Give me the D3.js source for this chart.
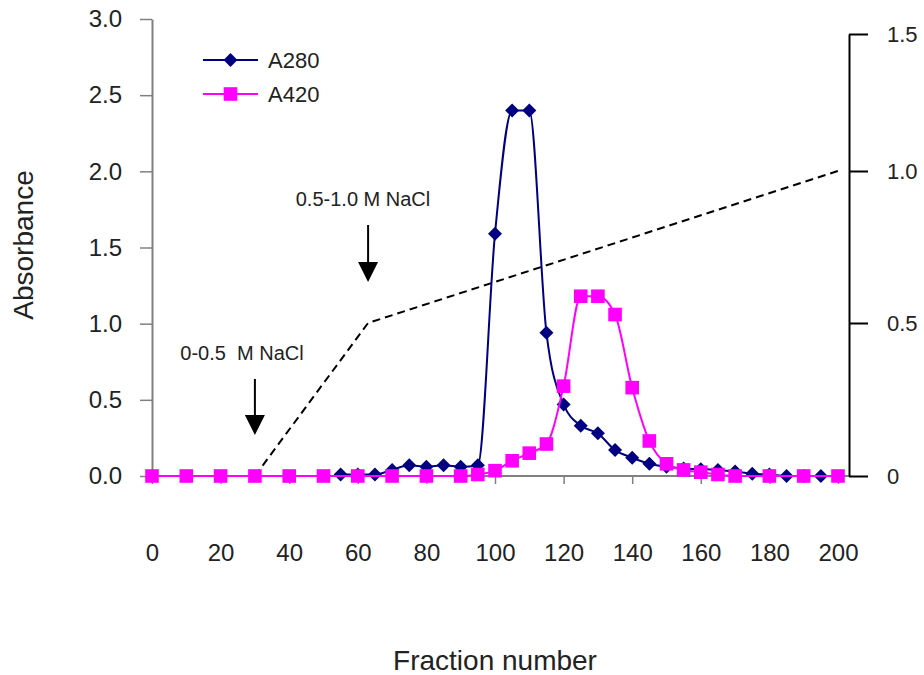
<!DOCTYPE html>
<html>
<head>
<meta charset="utf-8">
<script src="https://cdn.jsdelivr.net/npm/d3@7"></script>
<style>
body { margin: 0; background: #fff; }
svg { display: block; font-family: "Liberation Sans", Arial, sans-serif; }
</style>
</head>
<body>
<svg id="chart" width="924" height="675"></svg>
<script>
// fractions and absorbance readings
const a280Fractions = [55, 60, 65, 70, 75, 80, 85, 90, 95, 100, 105, 110, 115, 120, 125,
    130, 135, 140, 145, 150, 155, 160, 165, 170, 175, 180, 185, 190, 195];
const a280Values = [0.01, 0.01, 0.01, 0.04, 0.07, 0.06, 0.07, 0.06, 0.07, 1.59, 2.40, 2.40, 0.94, 0.47, 0.33,
    0.28, 0.17, 0.12, 0.08, 0.06, 0.05, 0.045, 0.04, 0.03, 0.015, 0.01, 0.0, 0.0, 0.0];
const a420Fractions = [0, 10, 20, 30, 40, 50, 60, 70, 80, 90, 95, 100, 105, 110, 115, 120,
    125, 130, 135, 140, 145, 150, 155, 160, 165, 170, 180, 190, 200];
const a420Values = [0, 0, 0, 0, 0, 0, 0, 0, 0, 0, 0.01, 0.035, 0.10, 0.15, 0.21, 0.59,
    1.18, 1.18, 1.06, 0.58, 0.23, 0.08, 0.04, 0.025, 0.01, 0, 0, 0, 0];
// NaCl gradient (right axis, M)
const gradientFractions = [30, 63, 200];
const gradientNaCl = [0, 0.5, 1.0];
const xTicks = [0, 20, 40, 60, 80, 100, 120, 140, 160, 180, 200];
const leftTicks = [0, 0.5, 1.0, 1.5, 2.0, 2.5, 3.0];
const rightTicks = [0, 0.5, 1.0, 1.5];
const notes = [
    { text: '0-0.5  M NaCl', fraction: 30, textX: 242, textY: 353, arrowTop: 379, arrowTip: 435 },
    { text: '0.5-1.0 M NaCl', fraction: 63, textX: 363, textY: 199, arrowTop: 225, arrowTip: 282 },
];

function translate(x, y) {
    return `translate(${x}, ${y})`;
}

const svg = d3.select('#chart');
const textColor = '#222';
const axisGray = '#808080';
const navy = '#000080';
const magenta = '#ff00ff';

const x = d3.scaleLinear().domain([0, 200]).range([152, 838]);
const yLeft = d3.scaleLinear().domain([0, 3]).range([476, 19]);
// the right axis in the original is hand-drawn, its top tick sits lower
const yRight = d3.scaleLinear().domain(rightTicks).range([476, 323, 171, 34]);
const rightX = 849;

svg.append('rect').attr('width', 924).attr('height', 675).style('fill', '#fff');

// left axis
const leftAxis = svg.append('g').attr('transform', translate(x(0), 0))
    .call(d3.axisLeft(yLeft).tickValues(leftTicks).tickFormat(d3.format('.1f'))
        .tickSize(12).tickSizeOuter(0).tickPadding(18));
leftAxis.select('.domain').style('stroke', axisGray).style('stroke-width', 2);
leftAxis.selectAll('.tick line').style('stroke', axisGray).style('stroke-width', 1.5);
leftAxis.selectAll('.tick text').style('font-size', '24px').style('fill', textColor)
    .style('font-family', '"Liberation Sans", Arial, sans-serif');

// bottom axis
const bottomAxis = svg.append('g').attr('transform', translate(0, yLeft(0)))
    .call(d3.axisBottom(x).tickValues(xTicks).tickFormat(d3.format('d')).tickSize(8).tickSizeOuter(0));
bottomAxis.select('.domain').remove();
bottomAxis.append('line')
    .attr('x1', x(0)).attr('x2', rightX).attr('y1', 0).attr('y2', 0)
    .style('stroke', axisGray).style('stroke-width', 2);
bottomAxis.selectAll('.tick line').style('stroke', axisGray).style('stroke-width', 1.5);
bottomAxis.selectAll('.tick text').attr('y', 77).attr('dy', '0.35em')
    .style('font-size', '24px').style('fill', textColor)
    .style('font-family', '"Liberation Sans", Arial, sans-serif');

// right axis
const rightAxis = svg.append('g').attr('transform', translate(rightX, 0))
    .call(d3.axisRight(yRight).tickValues(rightTicks).tickFormat(d => d === 0 ? '0' : d3.format('.1f')(d))
        .tickSize(19).tickSizeOuter(0).tickPadding(19));
rightAxis.select('.domain').style('stroke', '#000').style('stroke-width', 2);
rightAxis.selectAll('.tick line').style('stroke', '#000').style('stroke-width', 2);
rightAxis.selectAll('.tick text').style('font-size', '22px').style('fill', textColor)
    .style('font-family', '"Liberation Sans", Arial, sans-serif');

// gradient dashed line
const gradient = gradientFractions.map((f, i) => [f, gradientNaCl[i]]);
svg.append('path').datum(gradient)
    .attr('d', d3.line().x(d => x(d[0])).y(d => yRight(d[1])))
    .style('fill', 'none').style('stroke', '#000').style('stroke-width', 2)
    .style('stroke-dasharray', '8,5');

// annotations with arrows
notes.forEach(n => {
    const ax = x(n.fraction);
    svg.append('text').attr('x', n.textX).attr('y', n.textY).attr('dy', '0.35em')
        .style('text-anchor', 'middle').style('font-size', '20px').style('fill', textColor)
        .style('white-space', 'pre').text(n.text);
    svg.append('line').attr('x1', ax).attr('x2', ax).attr('y1', n.arrowTop).attr('y2', n.arrowTip - 16)
        .style('stroke', '#000').style('stroke-width', 2);
    svg.append('path')
        .attr('d', `M${ax - 10},${n.arrowTip - 20}L${ax + 10},${n.arrowTip - 20}L${ax},${n.arrowTip}Z`)
        .style('fill', '#000');
});

const smooth = d3.curveMonotoneX;

function drawSeries(fractions, values, color, marker) {
    const pts = fractions.map((f, i) => [f, values[i]]);
    const g = svg.append('g');
    g.append('path').datum(pts)
        .attr('d', d3.line().x(d => x(d[0])).y(d => yLeft(d[1])).curve(smooth))
        .style('fill', 'none').style('stroke', color).style('stroke-width', 2);
    g.selectAll('path.marker').data(pts).enter().append('path')
        .attr('class', 'marker')
        .attr('transform', d => translate(x(d[0]), yLeft(d[1])))
        .attr('d', marker)
        .style('fill', color);
}

const diamond = 'M0,-7L7,0L0,7L-7,0Z';
const square = 'M-6.8,-6.8H6.8V6.8H-6.8Z';

drawSeries(a280Fractions, a280Values, navy, diamond);
drawSeries(a420Fractions, a420Values, magenta, square);

// legend
const legend = svg.append('g');
const legendItems = [
    { name: 'A280', color: navy, marker: diamond, y: 60 },
    { name: 'A420', color: magenta, marker: square, y: 94 },
];
legendItems.forEach(it => {
    legend.append('line').attr('x1', 203).attr('x2', 258).attr('y1', it.y).attr('y2', it.y)
        .style('stroke', it.color).style('stroke-width', 2);
    legend.append('path').attr('transform', translate(230.5, it.y)).attr('d', it.marker)
        .style('fill', it.color);
    legend.append('text').attr('x', 268).attr('y', it.y).attr('dy', '0.35em')
        .style('font-size', '22px').style('fill', textColor).text(it.name);
});

// axis titles
svg.append('text')
    .attr('transform', translate(33, 245) + ' rotate(-90)')
    .style('text-anchor', 'middle').style('font-size', '28px').style('fill', textColor)
    .text('Absorbance');
svg.append('text')
    .attr('transform', translate(495, 670))
    .style('text-anchor', 'middle').style('font-size', '28px').style('fill', textColor)
    .text('Fraction number');
</script>
</body>
</html>
